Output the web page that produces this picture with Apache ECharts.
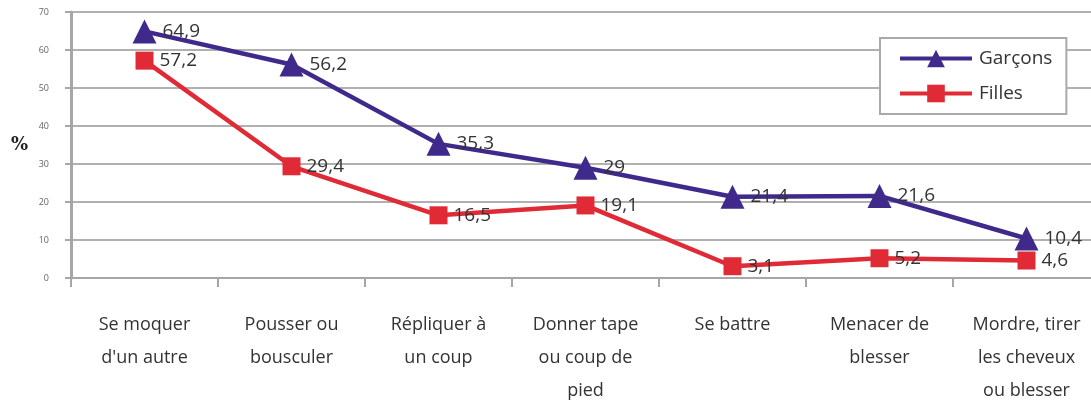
<!DOCTYPE html>
<html><head><meta charset="utf-8">
<script src="https://cdn.jsdelivr.net/npm/echarts@6/dist/echarts.min.js"></script>
<style>html,body{margin:0;padding:0;background:#fff}#c{width:1091px;height:400px}</style>
</head><body><div id="c"></div>
<script>
var categories = ["Se moquer\nd'un autre", "Pousser ou\nbousculer", "Répliquer à\nun coup", "Donner tape\nou coup de\npied", "Se battre", "Menacer de\nblesser", "Mordre, tirer\nles cheveux\nou blesser"];
var garcons = [64.9, 56.2, 35.3, 29, 21.4, 21.6, 10.4];
var filles = [57.2, 29.4, 16.5, 19.1, 3.1, 5.2, 4.6];
var yTicks = [0, 10, 20, 30, 40, 50, 60, 70];

var FONT = 'Open Sans';
var chart = echarts.init(document.getElementById('c'), null, {renderer: 'canvas'});
function fmt(p){ return String(p.value).replace('.', ','); }
chart.setOption({
  animation: false,
  backgroundColor: '#fff',
  textStyle: {fontFamily: FONT},
  grid: {left: 71, top: 12, width: 1029, bottom: 122, containLabel: false, outerBoundsMode: 'none'},
  graphic: [{type: 'text', left: 11, top: 136, style: {text: '%', font: 'bold 18px "DejaVu Serif"', fill: '#222'}}],
  legend: {
    orient: 'vertical', left: 880, top: 38,
    padding: [11, 14, 11, 18], itemGap: 16,
    backgroundColor: '#fff', borderColor: '#aaaaaa', borderWidth: 2,
    itemWidth: 72, itemHeight: 22,
    lineStyle: {width: 4},
    textStyle: {fontSize: 19, color: '#333', fontFamily: FONT, padding: [0, 0, 0, 2]},
    data: ['Garçons', 'Filles']
  },
  xAxis: {
    type: 'category', data: categories, boundaryGap: true,
    axisLine: {lineStyle: {color: '#a6a6a6', width: 2}},
    axisTick: {show: true, length: 9, lineStyle: {color: '#a6a6a6', width: 2}},
    axisLabel: {fontSize: 18, color: '#333', lineHeight: 33, margin: 30, interval: 0, fontFamily: FONT}
  },
  yAxis: {
    type: 'value', min: 0, max: 70, interval: 10,
    axisLine: {show: true, lineStyle: {color: '#a6a6a6', width: 3}},
    axisTick: {show: true, length: 6, lineStyle: {color: '#a6a6a6', width: 2}},
    splitLine: {lineStyle: {color: '#b0b0b0', width: 2}},
    axisLabel: {fontSize: 9, color: '#666', margin: 22, fontFamily: FONT,
      formatter: function(v){ return yTicks.indexOf(v) >= 0 ? String(v) : ''; }}
  },
  series: [
    {name: 'Garçons', type: 'line', data: garcons, symbol: 'triangle', symbolSize: 24,
     lineStyle: {color: '#3f2a8c', width: 4.5}, itemStyle: {color: '#3f2a8c'},
     label: {show: true, position: 'right', distance: 6, fontSize: 19, color: '#333', formatter: fmt, fontFamily: FONT}},
    {name: 'Filles', type: 'line', data: filles, symbol: 'rect', symbolSize: 18,
     lineStyle: {color: '#e02a36', width: 4.5}, itemStyle: {color: '#e02a36'},
     label: {show: true, position: 'right', distance: 6, fontSize: 19, color: '#333', formatter: fmt, fontFamily: FONT}}
  ]
});
</script></body></html>
